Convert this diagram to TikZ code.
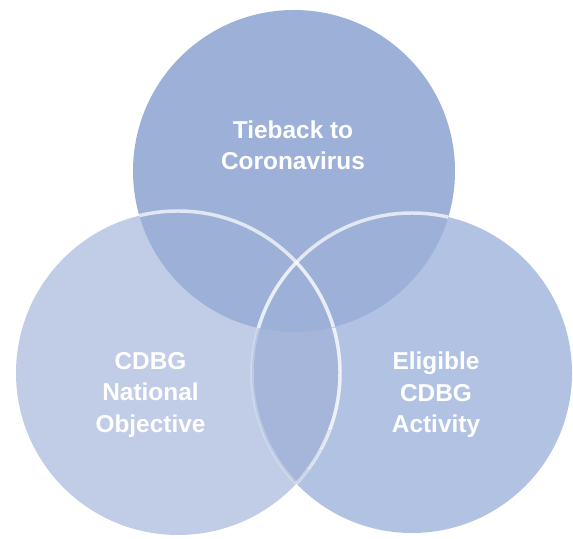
\documentclass[tikz,border=0pt]{standalone}
\usepackage{fontspec}
\setmainfont{Liberation Sans}
\definecolor{topblue}{RGB}{157,177,216}
\definecolor{leftblue}{RGB}{193,205,230}
\definecolor{rightblue}{RGB}{178,194,226}
\definecolor{lensblue}{RGB}{165,182,218}
\usetikzlibrary{
	positioning,
	calc
}
\tikzset{
  % circle
	cstcircle/.style   ={radius=161},
	cstrim/.style      ={draw=white, line width=3.5},
	cstrimf/.style     ={cstrim, opacity=.25}, % faint rim
	cstrims/.style     ={cstrim, opacity=.7},  % strong rim
  % text
	cstlabel/.style    ={text=white, align=center, inner sep=0pt,
		font=\bfseries\fontsize{24.5}{31.5}\selectfont}
}
\begin{document}
\begin{tikzpicture}[x=1bp,y=1bp]
	\useasboundingbox (0,0) rectangle (573,539);
	\coordinate (T) at (294,368);
	\coordinate (L) at (178,166);
	\coordinate (R) at (412,166);
	% fills
	\fill[leftblue] (L) circle[radius=162];
	\fill[rightblue] (R) circle[radius=160];
	\begin{scope}
		\clip (L) circle[radius=162];
		\fill[lensblue] (R) circle[radius=160];
	\end{scope}
	\fill[topblue] (T) circle[cstcircle];
	% rims
	\begin{scope}
		\clip (L) circle[radius=162];
		\draw[cstrimf] (R) circle[radius=160];
	\end{scope}
	\begin{scope}
		\clip (R) circle[radius=160];
		\draw[cstrimf] (L) circle[radius=162];
	\end{scope}
	\begin{scope}
		\clip (T) circle[cstcircle];
		\draw[cstrims] (R) circle[radius=160];
		\draw[cstrims] (L) circle[radius=162];
	\end{scope}
	\foreach \ylow/\yhigh/\op in {110/210/.7, 90/110/.55, 70/90/.4, 50/70/.2}{
		\begin{scope}[even odd rule]
			\clip (0,\ylow) rectangle (573,\yhigh);
			\clip (R) circle[radius=160];
			\clip (R) circle[radius=160] (T) circle[cstcircle];
			\draw[cstrim, opacity=\op] (L) circle[radius=162];
		\end{scope}
	}
	% labels
	\node[cstlabel] (tieback) at (293,394) {Tieback to\\Coronavirus};
	\node[cstlabel] (national) at (150.5,144) {CDBG\\National\\Objective};
	\node[cstlabel] (activity) at (436,144) {Eligible\\CDBG\\Activity};
\end{tikzpicture}
\end{document}
